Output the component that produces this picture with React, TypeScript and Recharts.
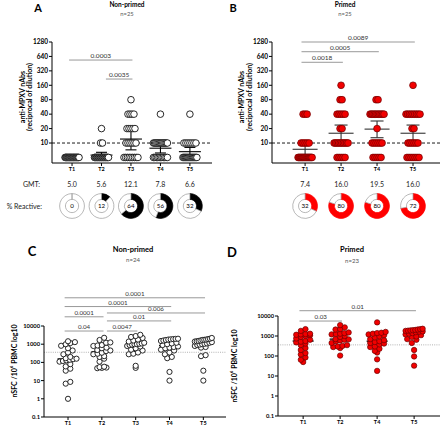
import React from 'react';
import {
  ScatterChart, Scatter, XAxis, YAxis, ReferenceLine, PieChart, Pie, Cell,
} from 'recharts';

const FONT = 'Lato, "Liberation Sans", Arial, sans-serif';
const RED = '#f20000';
const RED_EDGE = '#6b0000';

// ---- A / B: anti-MPXV nAbs (reciprocal of dilution) ----
const titreLevels = [5, 10, 20, 40, 80, 160]; // 5 = below LOD (<10)

const nonPrimedNabTimepoints = ['T1', 'T2', 'T3', 'T4', 'T5'];
// subjects at each titre level (5, 10, 20, 40, 80, 160), per timepoint
const nonPrimedNabCounts = [
  [25, 0, 0, 0, 0, 0],
  [22, 2, 1, 0, 0, 0],
  [9, 6, 5, 4, 1, 0],
  [11, 13, 0, 1, 0, 0],
  [17, 7, 0, 1, 0, 0],
];
const nonPrimedGmt = [5.0, 5.6, 12.1, 7.8, 6.6];
const nonPrimedCiLow = [5.0, 4.9, 7.2, 6.2, 5.4];
const nonPrimedCiHigh = [5.0, 6.4, 20.8, 9.8, 8.1];
const nonPrimedReactive = [0, 12, 64, 56, 32];

const primedNabTimepoints = ['T1', 'T2', 'T4', 'T5'];
const primedNabCounts = [
  [17, 5, 0, 3, 0, 0],
  [5, 10, 2, 5, 2, 1],
  [5, 6, 1, 11, 2, 0],
  [7, 6, 2, 9, 0, 1],
];
const primedGmt = [7.4, 16.0, 19.5, 16.0];
const primedCiLow = [5.6, 10.8, 12.9, 10.8];
const primedCiHigh = [9.6, 23.7, 28.8, 23.7];
const primedReactive = [32, 80, 80, 72];

// p-values between timepoints (1-based positions on the axis), `at` = bar height
const nonPrimedNabSig = [
  { from: 1, to: 3, p: '0.0003', at: 538 },
  { from: 2, to: 3, p: '0.0035', at: 216 },
];
const primedNabSig = [
  { from: 1, to: 4, p: '0.0089', at: 1280 },
  { from: 1, to: 3, p: '0.0005', at: 803 },
  { from: 1, to: 2, p: '0.0018', at: 483 },
];

// ---- C / D: nSFC / 10^6 PBMC ----
const nonPrimedElispotTimepoints = ['T1', 'T2', 'T3', 'T4', 'T5'];
const nonPrimedT1 = [1.0, 6.8, 8.5, 35, 45, 60, 80, 110, 120, 130, 140, 150, 160, 170, 200, 280, 350, 450, 600, 820, 1000, 1150, 1300, 1450];
const nonPrimedT2 = [48, 50, 52, 55, 58, 110, 160, 200, 220, 280, 300, 340, 420, 450, 480, 600, 650, 800, 850, 900, 1200, 1250, 1700, 2250];
const nonPrimedT3 = [50, 65, 280, 300, 350, 450, 500, 600, 750, 800, 900, 950, 1000, 1000, 1050, 1100, 1200, 1400, 1600, 1800, 2200, 2500, 2800, 3300];
const nonPrimedT4 = [10, 30, 170, 200, 280, 350, 450, 500, 600, 650, 700, 750, 900, 1000, 1100, 1200, 1500, 1600, 1700, 1800, 1850, 1900, 1950, 2000];
const nonPrimedT5 = [10, 35, 220, 250, 650, 700, 800, 900, 950, 1000, 1050, 1100, 1200, 1300, 1400, 1450, 1500, 1600, 1700, 1750, 1800, 1900, 2000, 2200];

const primedElispotTimepoints = ['T1', 'T2', 'T4', 'T5'];
const primedT1 = [50, 65, 85, 120, 140, 200, 250, 350, 420, 480, 520, 560, 650, 750, 900, 1000, 1100, 1150, 1200, 1250, 1300, 1800, 2200];
const primedT2 = [105, 250, 280, 300, 320, 350, 450, 550, 600, 650, 680, 700, 900, 1000, 1200, 1250, 1300, 1400, 1500, 2100, 2200, 2700, 3500];
const primedT4 = [18, 68, 150, 180, 230, 280, 300, 380, 420, 450, 500, 550, 620, 700, 850, 950, 1100, 1200, 1300, 1400, 1450, 1600, 4800];
const primedT5 = [33, 95, 200, 450, 650, 700, 900, 950, 1100, 1200, 1300, 1400, 1550, 1650, 1700, 1800, 1850, 1900, 1950, 2000, 2100, 2200, 2300];

const elispotCutoff = 360;

const nonPrimedElispotSig = [
  { from: 1, to: 5, p: '0.0001', at: 355000 },
  { from: 1, to: 4, p: '0.0001', at: 117000 },
  { from: 2, to: 5, p: '0.006', at: 52000 },
  { from: 1, to: 2, p: '0.0001', at: 32000 },
  { from: 2, to: 4, p: '0.01', at: 19000 },
  { from: 1, to: 2, p: '0.04', at: 5300 },
  { from: 2, to: 3, p: '0.0047', at: 5300 },
];
const primedElispotSig = [
  { from: 1, to: 4, p: '0.01', at: 18400 },
  { from: 1, to: 2, p: '0.03', at: 5600 },
];

type Sig = { from: number; to: number; p: string; at: number };
type Pt = { x: number; y: number };

// spread identical titres into a horizontal row
function rowPoints(counts: number[][], pxPerUnit: number): Pt[] {
  const pts: Pt[] = [];
  counts.forEach((row, i) => {
    row.forEach((n, j) => {
      const step = n > 1 ? Math.min(2, 14 / (n - 1)) : 0;
      for (let k = 0; k < n; k++) {
        pts.push({ x: i + 1 + ((k - (n - 1) / 2) * step) / pxPerUnit, y: titreLevels[j] });
      }
    });
  });
  return pts;
}

// Prism-style scatter: bin values into rows of a few px, spread each row sideways
function swarm(groups: number[][], pxPerUnit: number, pxPerDecade: number): Pt[] {
  const pts: Pt[] = [];
  const rowPx = 4.2;
  const gap = 4.6;
  const maxHalf = 8.5;
  groups.forEach((vals, i) => {
    const rows = new Map<number, number[]>();
    vals.forEach((v) => {
      const r = Math.round((Math.log10(v) * pxPerDecade) / rowPx);
      if (!rows.has(r)) rows.set(r, []);
      rows.get(r)!.push(v);
    });
    rows.forEach((rv) => {
      const n = rv.length;
      const step = n > 1 ? Math.min(gap, (2 * maxHalf) / (n - 1)) : 0;
      rv.forEach((v, k) => {
        pts.push({ x: i + 1 + ((k - (n - 1) / 2) * step) / pxPerUnit, y: v });
      });
    });
  });
  return pts;
}

function median(vals: number[]) {
  const s = [...vals].sort((a, b) => a - b);
  const m = Math.floor(s.length / 2);
  return s.length % 2 ? s[m] : (s[m - 1] + s[m]) / 2;
}

function Txt({ x, y, size = 7, bold = false, color = '#000', anchor = 'middle', rotate = false, children }: any) {
  const tx = anchor === 'middle' ? '-50%' : anchor === 'end' ? '-100%' : '0';
  return (
    <div
      style={{
        position: 'absolute', left: x, top: y, whiteSpace: 'nowrap', lineHeight: 1,
        transform: `translate(${tx}, -50%)${rotate ? ' rotate(-90deg)' : ''}`,
        fontSize: size, fontWeight: bold ? 700 : 400, color, fontFamily: FONT,
      }}
    >
      {children}
    </div>
  );
}

const openDot = (r: number) => (p: any) => (
  <circle cx={p.cx} cy={p.cy} r={r} fill="#fff" stroke="#111" strokeWidth={0.9} />
);
const redDot = (r: number) => (p: any) => (
  <circle cx={p.cx} cy={p.cy} r={r} fill={RED} stroke={RED_EDGE} strokeWidth={0.7} />
);

function sigLines(sig: Sig[], fontSize: number) {
  return sig.map((s, k) => (
    <ReferenceLine
      key={`sig${k}`}
      segment={[
        { x: s.from + (s.from === 1 ? -0.1 : 0.15), y: s.at },
        { x: s.to + 0.05, y: s.at },
      ]}
      stroke="#999"
      strokeWidth={1}
      ifOverflow="visible"
      label={{ value: s.p, position: 'top', offset: 2, fontSize, fill: '#333', fontFamily: FONT }}
    />
  ));
}

const axisStroke = { stroke: '#000', strokeWidth: 1 };

type NabProps = {
  left: number; width: number; plotLeft: number; plotRight: number; xDomain: [number, number];
  timepoints: string[]; counts: number[][]; gmt: number[]; ciLow: number[]; ciHigh: number[];
  reactive: number[]; sig: Sig[]; primed: boolean;
};

function NabPanel(props: NabProps) {
  const { left, width, plotLeft, plotRight, xDomain, timepoints, counts, gmt, ciLow, ciHigh, reactive, sig, primed } = props;
  const pxPerUnit = (plotRight - plotLeft) / (xDomain[1] - xDomain[0]);
  const xPx = (i: number) => plotLeft + (i + 1 - xDomain[0]) * pxPerUnit;
  const points = rowPoints(counts, pxPerUnit);
  const ticks = timepoints.map((_, i) => i + 1);
  const lineColor = primed ? '#333' : '#000';
  const mw = (primed ? 12.5 : 11) / pxPerUnit;
  const cw = (primed ? 6.5 : 5.5) / pxPerUnit;
  const fill = primed ? '#ff0000' : '#000';

  return (
    <>
      <div style={{ position: 'absolute', left, top: 0 }}>
        <ScatterChart width={width} height={175} margin={{ top: 42, right: left + width - plotRight, bottom: 0, left: plotLeft - left - 30 }}>
          <XAxis
            type="number" dataKey="x" domain={xDomain} allowDataOverflow ticks={ticks} interval={0}
            tickFormatter={(v) => timepoints[v - 1]} height={12} tickSize={3} tickMargin={1}
            axisLine={axisStroke} tickLine={axisStroke}
            tick={{ fontSize: 5.5, fontWeight: 700, fill: '#000', fontFamily: FONT }}
          />
          <YAxis
            type="number" dataKey="y" scale="log" domain={[3.83, 1280]} allowDataOverflow
            ticks={[10, 20, 40, 80, 160, 320, 640, 1280]} interval={0} width={30} tickSize={3} tickMargin={1}
            axisLine={axisStroke} tickLine={axisStroke}
            tick={{ fontSize: 6.5, fontWeight: 700, fill: '#000', fontFamily: FONT }}
          />
          <ReferenceLine y={10} stroke="#000" strokeDasharray="3 2" strokeWidth={0.9} />
          <Scatter data={points} isAnimationActive={false} shape={primed ? redDot(3.4) : openDot(3.3)} />
          {gmt.map((g, i) => ciHigh[i] > ciLow[i] && [
            <ReferenceLine key={`m${i}`} segment={[{ x: i + 1 - mw, y: g }, { x: i + 1 + mw, y: g }]} stroke={lineColor} strokeWidth={1.1} />,
            <ReferenceLine key={`v${i}`} segment={[{ x: i + 1, y: ciLow[i] }, { x: i + 1, y: ciHigh[i] }]} stroke={lineColor} strokeWidth={1.1} />,
            <ReferenceLine key={`h${i}`} segment={[{ x: i + 1 - cw, y: ciHigh[i] }, { x: i + 1 + cw, y: ciHigh[i] }]} stroke={lineColor} strokeWidth={1.1} />,
            <ReferenceLine key={`l${i}`} segment={[{ x: i + 1 - cw, y: ciLow[i] }, { x: i + 1 + cw, y: ciLow[i] }]} stroke={lineColor} strokeWidth={1.1} />,
          ])}
          {sigLines(sig, 6.5)}
        </ScatterChart>
      </div>
      {gmt.map((g, i) => (
        <Txt key={`g${i}`} x={xPx(i)} y={184} size={7} color="#222">{g.toFixed(1)}</Txt>
      ))}
      <div style={{ position: 'absolute', left, top: 191 }}>
        <PieChart width={width} height={30} margin={{ top: 0, right: 0, bottom: 0, left: 0 }}>
          {reactive.map((pct, i) => (
            <Pie
              key={i} data={[{ v: pct }, { v: 100 - pct }]} dataKey="v" cx={xPx(i) - left} cy={15}
              innerRadius={6.6} outerRadius={12.4} startAngle={90} endAngle={-270}
              isAnimationActive={false} strokeWidth={0.7}
            >
              <Cell fill={fill} stroke={fill} />
              <Cell fill="#fff" stroke="#9a9a9a" />
            </Pie>
          ))}
        </PieChart>
      </div>
      {reactive.map((pct, i) => (
        <Txt key={`r${i}`} x={xPx(i)} y={206} size={6.2}>{pct}</Txt>
      ))}
    </>
  );
}

type ElispotProps = {
  left: number; width: number; plotLeft: number; plotRight: number; plotTop: number; xDomain: [number, number];
  pxPerDecade: number; timepoints: string[]; groups: number[][]; sig: Sig[]; primed: boolean;
};

function ElispotPanel(props: ElispotProps) {
  const { left, width, plotLeft, plotRight, plotTop, xDomain, pxPerDecade, timepoints, groups, sig, primed } = props;
  const top = 230;
  const height = 198;
  const pxPerUnit = (plotRight - plotLeft) / (xDomain[1] - xDomain[0]);
  const points = swarm(groups, pxPerUnit, pxPerDecade);
  const ticks = timepoints.map((_, i) => i + 1);
  const hw = 10.5 / pxPerUnit;

  return (
    <div style={{ position: 'absolute', left, top }}>
      <ScatterChart width={width} height={height} margin={{ top: plotTop - top, right: left + width - plotRight, bottom: 0, left: plotLeft - left - 30 }}>
        <XAxis
          type="number" dataKey="x" domain={xDomain} allowDataOverflow ticks={ticks} interval={0}
          tickFormatter={(v) => timepoints[v - 1]} height={primed ? 12 : 11} tickSize={3} tickMargin={1}
          axisLine={axisStroke} tickLine={axisStroke}
          tick={{ fontSize: 5.5, fontWeight: 700, fill: '#000', fontFamily: FONT }}
        />
        <YAxis
          type="number" dataKey="y" scale="log" domain={[0.1, 10000]} allowDataOverflow
          ticks={[0.1, 1, 10, 100, 1000, 10000]} interval={0} width={30} tickSize={3} tickMargin={1}
          axisLine={axisStroke} tickLine={axisStroke}
          tick={{ fontSize: 5.8, fontWeight: 700, fill: '#000', fontFamily: FONT }}
        />
        <ReferenceLine y={elispotCutoff} stroke="#aaa" strokeDasharray="1 1.2" strokeWidth={0.9} />
        <Scatter data={points} isAnimationActive={false} shape={primed ? redDot(2.7) : openDot(2.6)} />
        {groups.map((g, i) => (
          <ReferenceLine
            key={`md${i}`}
            segment={[{ x: i + 1 - hw, y: median(g) }, { x: i + 1 + hw, y: median(g) }]}
            stroke="#000" strokeWidth={1.3}
          />
        ))}
        {sigLines(sig, 6.2)}
      </ScatterChart>
    </div>
  );
}

export default function App() {
  return (
    <div style={{ position: 'absolute', left: 0, top: 0, width: 440, height: 428, background: '#fff', overflow: 'hidden', fontFamily: FONT }}>
      {/* A */}
      <Txt x={38} y={7} size={11} bold>A</Txt>
      <Txt x={127} y={5} size={6.5} bold>Non-primed</Txt>
      <Txt x={127} y={14} size={5.8} color="#555">n=25</Txt>
      <Txt x={21.5} y={97} size={7} bold rotate>anti-MPXV nAbs</Txt>
      <Txt x={29} y={97} size={7} bold rotate>(reciprocal of dilution)</Txt>
      <NabPanel
        left={0} width={220} plotLeft={52} plotRight={212} xDomain={[0.32, 5.75]}
        timepoints={nonPrimedNabTimepoints} counts={nonPrimedNabCounts} gmt={nonPrimedGmt}
        ciLow={nonPrimedCiLow} ciHigh={nonPrimedCiHigh} reactive={nonPrimedReactive}
        sig={nonPrimedNabSig} primed={false}
      />
      <Txt x={31.5} y={184} size={7} color="#222">GMT:</Txt>
      <Txt x={42} y={206} size={7} color="#222" anchor="end">% Reactive:</Txt>

      {/* B */}
      <Txt x={233} y={7} size={11} bold>B</Txt>
      <Txt x={345} y={5} size={6.5} bold>Primed</Txt>
      <Txt x={345} y={14} size={5.8} color="#555">n=25</Txt>
      <Txt x={241} y={97} size={7} bold rotate>anti-MPXV nAbs</Txt>
      <Txt x={249} y={97} size={7} bold rotate>(reciprocal of dilution)</Txt>
      <NabPanel
        left={220} width={220} plotLeft={272} plotRight={440} xDomain={[0.08, 4.75]}
        timepoints={primedNabTimepoints} counts={primedNabCounts} gmt={primedGmt}
        ciLow={primedCiLow} ciHigh={primedCiHigh} reactive={primedReactive}
        sig={primedNabSig} primed
      />

      {/* C */}
      <Txt x={32} y={251} size={13} bold>C</Txt>
      <Txt x={133} y={250} size={7.5} bold>Non-primed</Txt>
      <Txt x={133} y={259.5} size={6} color="#555">n=24</Txt>
      <Txt x={14} y={361} size={7} bold rotate>
        nSFC /10<sup style={{ fontSize: 4.5 }}>6</sup> PBMC log10
      </Txt>
      <ElispotPanel
        left={0} width={228} plotLeft={44} plotRight={226} plotTop={326} xDomain={[0.29, 5.67]}
        pxPerDecade={18.1} timepoints={nonPrimedElispotTimepoints}
        groups={[nonPrimedT1, nonPrimedT2, nonPrimedT3, nonPrimedT4, nonPrimedT5]}
        sig={nonPrimedElispotSig} primed={false}
      />

      {/* D */}
      <Txt x={232} y={252} size={13} bold>D</Txt>
      <Txt x={352} y={250} size={7.5} bold>Primed</Txt>
      <Txt x={352} y={260.5} size={6} color="#555">n=23</Txt>
      <Txt x={234} y={366} size={7} bold rotate>
        nSFC /10<sup style={{ fontSize: 4.5 }}>6</sup> PBMC log10
      </Txt>
      <ElispotPanel
        left={228} width={212} plotLeft={278} plotRight={440} plotTop={316} xDomain={[0.32, 4.7]}
        pxPerDecade={20} timepoints={primedElispotTimepoints}
        groups={[primedT1, primedT2, primedT4, primedT5]}
        sig={primedElispotSig} primed
      />
    </div>
  );
}
